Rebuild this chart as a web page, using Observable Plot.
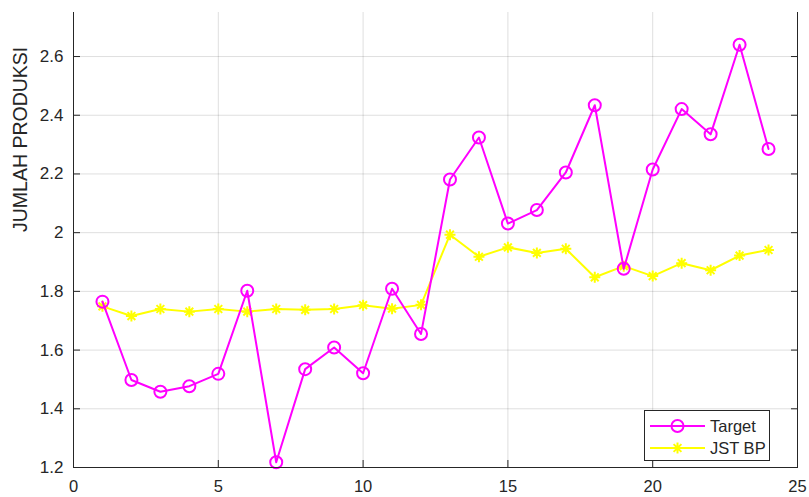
<!DOCTYPE html>
<html>
<head>
<meta charset="utf-8">
<script src="https://cdn.jsdelivr.net/npm/d3@7"></script>
<script src="https://cdn.jsdelivr.net/npm/@observablehq/plot@0.6"></script>
<style>
  html, body { margin: 0; padding: 0; background: #fff; }
  #wrap { position: relative; width: 809px; height: 497px; font-family: "Liberation Sans", Arial, sans-serif; color: #262626; }
  #legend { position: absolute; left: 644px; top: 410px; width: 126px; height: 51px; box-sizing: border-box;
            border: 1px solid #262626; background: #fff; font-size: 16.5px; }
  .row { position: absolute; left: 5px; height: 22px; display: flex; align-items: center; }
  .row svg { display: block; }
  .row span { margin-left: 4px; white-space: nowrap; }
</style>
</head>
<body>
<div id="wrap">
  <div id="chart"></div>
  <div id="legend">
    <div class="row" style="top:4px"><svg width="56" height="22"><line x1="0" y1="11" x2="55" y2="11" stroke="#FF00FF" stroke-width="2"/><circle cx="27.5" cy="11" r="6" fill="none" stroke="#FF00FF" stroke-width="2"/></svg><span>Target</span></div>
    <div class="row" style="top:26px"><svg width="56" height="22"><line x1="0" y1="11" x2="55" y2="11" stroke="#FFFF00" stroke-width="2"/><path d="M22,11H33M27.5,5.5V16.5M23.6,7.1L31.4,14.9M23.6,14.9L31.4,7.1" stroke="#FFFF00" stroke-width="2" fill="none"/></svg><span>JST BP</span></div>
  </div>
</div>
<script>
// ---- data ----
const periods = [1,2,3,4,5,6,7,8,9,10,11,12,13,14,15,16,17,18,19,20,21,22,23,24];
const targetValues = [1.765,1.498,1.458,1.477,1.519,1.802,1.218,1.535,1.609,1.521,1.809,1.655,
                      2.181,2.324,2.031,2.077,2.205,2.434,1.877,2.215,2.421,2.335,2.640,2.285];
const jstValues = [1.749,1.716,1.740,1.731,1.740,1.731,1.740,1.737,1.740,1.753,1.741,1.754,
                   1.993,1.918,1.950,1.931,1.945,1.848,1.886,1.852,1.896,1.872,1.922,1.941];
const seriesNames = ["Target", "JST BP"];
const xTicks = [0,5,10,15,20,25];
const yTicks = [1.2,1.4,1.6,1.8,2,2.2,2.4,2.6];
const yLabel = "JUMLAH PRODUKSI";

const target = periods.map((p, i) => ({x: p, y: targetValues[i], series: seriesNames[0]}));
const jst = periods.map((p, i) => ({x: p, y: jstValues[i], series: seriesNames[1]}));

const asterisk = {
  draw(ctx, size) {
    const r = Math.sqrt(size / Math.PI);
    const d = r * Math.SQRT1_2;
    ctx.moveTo(-r, 0); ctx.lineTo(r, 0);
    ctx.moveTo(0, -r); ctx.lineTo(0, r);
    ctx.moveTo(-d, -d); ctx.lineTo(d, d);
    ctx.moveTo(-d, d); ctx.lineTo(d, -d);
  }
};

const axisColor = "#262626";

const chart = Plot.plot({
  width: 809,
  height: 497,
  marginLeft: 73,
  marginRight: 12,
  marginTop: 12,
  marginBottom: 30,
  style: {fontFamily: "'Liberation Sans', Arial, sans-serif", fontSize: "17px", color: axisColor, background: "#fff"},
  x: {domain: [0, 25]},
  y: {domain: [1.2, 2.75]},
  marks: [
    Plot.gridX(xTicks, {stroke: "#000", strokeOpacity: 0.13}),
    Plot.gridY(yTicks, {stroke: "#000", strokeOpacity: 0.13}),
    Plot.line(jst, {x: "x", y: "y", stroke: "#FFFF00", strokeWidth: 2}),
    Plot.dot(jst, {x: "x", y: "y", symbol: asterisk, r: 5.5, stroke: "#FFFF00", strokeWidth: 2, fill: "none"}),
    Plot.line(target, {x: "x", y: "y", stroke: "#FF00FF", strokeWidth: 2}),
    Plot.dot(target, {x: "x", y: "y", r: 6, stroke: "#FF00FF", strokeWidth: 2, fill: "none"}),
    Plot.ruleY([1.2], {stroke: axisColor}),
    Plot.ruleX([0], {stroke: axisColor}),
    Plot.ruleX([25], {stroke: axisColor}),
    Plot.axisX(xTicks, {tickSize: -7, tickPadding: 20, fontSize: 16.5, tickFormat: d => String(d), label: null, stroke: axisColor, fill: axisColor}),
    Plot.axisY(yTicks, {tickSize: -7, tickPadding: 17, tickFormat: d => String(d), label: null, stroke: axisColor, fill: axisColor}),
    Plot.axisY(yTicks, {anchor: "right", tickSize: -7, tickPadding: 0, tickFormat: () => "", label: null, stroke: axisColor}),
    Plot.text([yLabel], {text: d => d, frameAnchor: "left", rotate: -90, dx: -53, dy: -8, fontSize: 19.5, fill: axisColor})
  ]
});
document.getElementById("chart").appendChild(chart);
</script>
</body>
</html>
